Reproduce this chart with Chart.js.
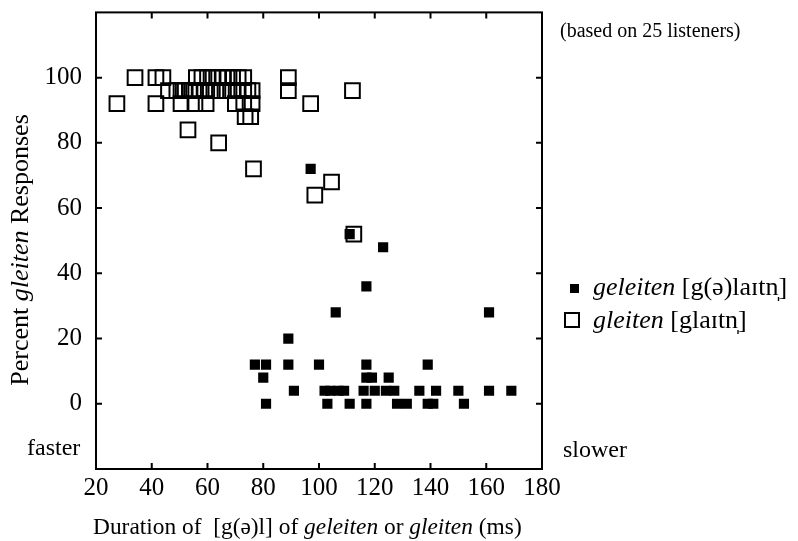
<!DOCTYPE html>
<html>
<head>
<meta charset="utf-8">
<script src="https://cdn.jsdelivr.net/npm/chart.js@4.4.1/dist/chart.umd.min.js"></script>
<style>
  body { margin: 0; background: #fff; }
  #wrap { width: 798px; height: 541px; }
</style>
</head>
<body>
<div id="wrap"><canvas id="durationChart" width="798" height="541"></canvas></div>
<script>
// geleiten [g(ə)laɪtn̩] stimuli: duration (ms) and percent gleiten responses
const geleitenMs = [
  97, 111, 123, 117, 106, 161, 89,
  77, 81, 89, 100, 117, 139,
  80, 117, 119, 125,
  91, 102, 104, 107, 109, 116, 120, 124, 127, 136, 142, 150, 161, 169,
  81, 103, 111, 117, 128, 131.5, 139, 141, 152
];
const geleitenPct = [
  72, 52, 48, 36, 28, 28, 20,
  12, 12, 12, 12, 12, 12,
  8, 8, 8, 8,
  4, 4, 4, 4, 4, 4, 4, 4, 4, 4, 4, 4, 4, 4,
  0, 0, 0, 0, 0, 0, 0, 0, 0
];

// gleiten [glaɪtn̩] stimuli
const gleitenMs = [
  34, 41.5, 44, 56, 58, 60, 62, 64, 65.5, 67, 69, 71, 73, 89,
  46, 49, 50.5, 52, 53.5, 55, 57, 59, 61, 63, 65, 67, 69, 71, 73, 74.5, 76, 89, 112,
  27.5, 41.5, 50.5, 55.5, 59.5, 70, 73, 76, 97,
  73.5, 75.5,
  53, 64, 76.5, 104.5, 98.5, 112.5
];
const gleitenPct = [
  100, 100, 100, 100, 100, 100, 100, 100, 100, 100, 100, 100, 100, 100,
  96, 96, 96, 96, 96, 96, 96, 96, 96, 96, 96, 96, 96, 96, 96, 96, 96, 96, 96,
  92, 92, 92, 92, 92, 92, 92, 92, 92,
  88, 88,
  84, 80, 72, 68, 64, 52
];

const xLabels = [20, 40, 60, 80, 100, 120, 140, 160, 180];
const yLabels = [0, 20, 40, 60, 80, 100];

const SERIF = '"Liberation Serif", "DejaVu Serif", serif';

function toPoints(xs, ys) {
  return xs.map((x, i) => ({ x: x, y: ys[i] }));
}

// draws a line of text made of plain and italic pieces
function drawRuns(ctx, runs, x, y, size) {
  runs.forEach(r => {
    ctx.font = (r.it ? 'italic ' : '') + size + 'px ' + SERIF;
    ctx.fillText(r.t, x, y);
    x += ctx.measureText(r.t).width;
  });
}

function runsWidth(ctx, runs, size) {
  let w = 0;
  runs.forEach(r => {
    ctx.font = (r.it ? 'italic ' : '') + size + 'px ' + SERIF;
    w += ctx.measureText(r.t).width;
  });
  return w;
}

const framePlugin = {
  id: 'frame',
  afterDraw(chart) {
    const ctx = chart.ctx;
    const a = chart.chartArea;
    const xs = chart.scales.x;
    const ys = chart.scales.y;
    const tick = 6;

    ctx.save();
    ctx.strokeStyle = '#000';
    ctx.lineWidth = 2;
    ctx.strokeRect(a.left, a.top, a.right - a.left, a.bottom - a.top);

    // inward tick marks on all four sides
    ctx.beginPath();
    xLabels.slice(1, -1).forEach(v => {
      const px = xs.getPixelForValue(v);
      ctx.moveTo(px, a.top); ctx.lineTo(px, a.top + tick);
      ctx.moveTo(px, a.bottom); ctx.lineTo(px, a.bottom - tick);
    });
    yLabels.forEach(v => {
      const py = ys.getPixelForValue(v);
      ctx.moveTo(a.left, py); ctx.lineTo(a.left + tick, py);
      ctx.moveTo(a.right, py); ctx.lineTo(a.right - tick, py);
    });
    ctx.stroke();

    ctx.fillStyle = '#000';
    ctx.textBaseline = 'alphabetic';
    ctx.textAlign = 'left';

    // axis titles
    drawRuns(ctx, [
      { t: 'Duration of  [g(ə)l] of ' }, { t: 'geleiten', it: true },
      { t: ' or ' }, { t: 'gleiten', it: true }, { t: ' (ms)' }
    ], 93, 534, 23.4);

    const yTitle = [{ t: 'Percent ' }, { t: 'gleiten', it: true }, { t: ' Responses' }];
    ctx.save();
    ctx.translate(28, 250);
    ctx.rotate(-Math.PI / 2);
    drawRuns(ctx, yTitle, -runsWidth(ctx, yTitle, 26) / 2, 0, 26);
    ctx.restore();

    drawRuns(ctx, [{ t: 'faster' }], 27, 455, 24);
    drawRuns(ctx, [{ t: 'slower' }], 563, 457, 24);
    drawRuns(ctx, [{ t: '(based on 25 listeners)' }], 560, 37, 20);

    // legend
    ctx.fillRect(570, 284, 9, 9);
    ctx.strokeRect(565, 313, 14, 14);
    drawRuns(ctx, [{ t: 'geleiten', it: true }, { t: ' [g(ə)laɪtn\u0329]' }], 593, 295, 26);
    drawRuns(ctx, [{ t: 'gleiten', it: true }, { t: ' [glaɪtn\u0329]' }], 593, 328, 26);
    ctx.restore();
  }
};

new Chart(document.getElementById('durationChart'), {
  type: 'scatter',
  data: {
    datasets: [
      {
        label: 'geleiten',
        data: toPoints(geleitenMs, geleitenPct),
        pointStyle: 'rect',
        pointRadius: 7.2,
        backgroundColor: '#000',
        borderWidth: 0
      },
      {
        label: 'gleiten',
        data: toPoints(gleitenMs, gleitenPct),
        pointStyle: 'rect',
        pointRadius: 10.4,
        backgroundColor: 'rgba(0,0,0,0)',
        borderColor: '#000',
        borderWidth: 2
      }
    ]
  },
  options: {
    responsive: false,
    animation: false,
    layout: { padding: { left: 0, top: 12, right: 256, bottom: 0 } },
    plugins: {
      legend: { display: false },
      tooltip: { enabled: false }
    },
    scales: {
      x: {
        type: 'linear',
        min: 20,
        max: 180,
        afterFit(scale) {
          scale.height = 72;
          scale.paddingLeft = 0;
          scale.paddingRight = 0;
        },
        afterBuildTicks(scale) { scale.ticks = xLabels.map(v => ({ value: v })); },
        grid: { display: false, drawTicks: false },
        border: { display: false },
        ticks: {
          color: '#000',
          padding: 4,
          maxRotation: 0,
          font: { family: SERIF, size: 25 }
        }
      },
      y: {
        type: 'linear',
        min: -20,
        max: 120,
        afterFit(scale) {
          scale.width = 96;
          scale.paddingTop = 0;
          scale.paddingBottom = 0;
        },
        afterBuildTicks(scale) { scale.ticks = yLabels.map(v => ({ value: v })); },
        grid: { display: false, drawTicks: false },
        border: { display: false },
        ticks: {
          color: '#000',
          padding: 14,
          font: { family: SERIF, size: 25 }
        }
      }
    }
  },
  plugins: [framePlugin]
});
</script>
</body>
</html>
